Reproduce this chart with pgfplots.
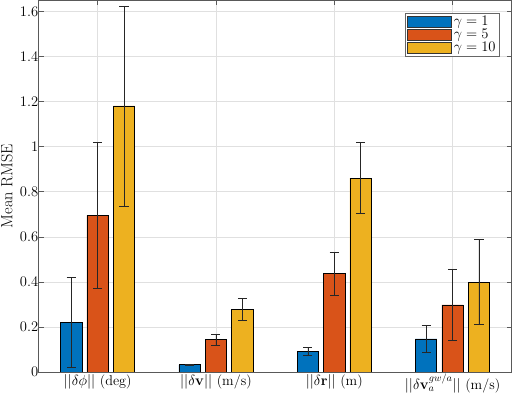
\documentclass[border=0pt,12pt]{standalone}
\usepackage{pgfplots}
\pgfplotsset{compat=1.18}
\usepackage{pgfplotstable}
\usepackage{amsmath}

\definecolor{mblue}{rgb}{0,0.447,0.741}
\definecolor{morange}{rgb}{0.85,0.325,0.098}
\definecolor{myellow}{rgb}{0.929,0.694,0.125}

% mean and std per group
\pgfplotstableread{
x y1 e1 y2 e2 y3 e3
1 0.219 0.200 0.695 0.324 1.181 0.444
2 0.032 0.004 0.143 0.025 0.278 0.048
3 0.091 0.018 0.436 0.097 0.861 0.158
4 0.147 0.060 0.298 0.158 0.399 0.189
}\rmse

\begin{document}
\begin{tikzpicture}
\begin{axis}[
    scale only axis,
    width=466pt, height=366pt,
    tick label style={font=\fontsize{14}{16}\selectfont},
    yticklabel style={inner xsep=0pt},
    xticklabel style={inner ysep=2pt},
    label style={font=\fontsize{16}{18}\selectfont},
    ybar=5pt,
    bar width=21pt,
    xmin=0.5, xmax=4.5,
    ymin=0, ymax=1.65,
    xtick={1,2,3,4},
    xticklabels={{$||\delta\phi||$ (deg)}, {$||\delta\mathbf{v}||$ (m/s)}, {$||\delta\mathbf{r}||$ (m)}, {$||\delta\mathbf{v}_a^{gw/a}||$ (m/s)}},
    ytick={0,0.2,...,1.6},
    ylabel={Mean RMSE},
    ylabel style={at={(axis description cs:-0.052,0.5)}, anchor=south, inner sep=1pt},
    tick align=inside,
    major tick length=5pt,
    xtick pos=both, ytick pos=both,
    grid=major,
    major grid style={black!12, line width=0.6pt},
    axis line style={black!65, line width=0.6pt},
    tick style={black!65, line width=0.6pt},
    legend cell align=left,
    legend style={at={(0.975,0.967)}, anchor=north east, draw=black!60, fill=white,
        inner xsep=2pt, inner ysep=1pt, row sep=-2pt, font=\fontsize{14}{15}\selectfont},
    legend image code/.code={\draw[#1, draw=black!80] (0pt,-5.5pt) rectangle (43pt,5.5pt);},
    error bars/error bar style={black!85, line width=0.6pt},
    error bars/error mark options={rotate=90, mark size=4.5pt, black!85, line width=0.6pt},
]
\addplot[fill=mblue, draw=black, line width=0.6pt, error bars/.cd, y dir=both, y explicit]
    table[x=x, y=y1, y error=e1] {\rmse};
\addplot[fill=morange, draw=black, line width=0.6pt, error bars/.cd, y dir=both, y explicit]
    table[x=x, y=y2, y error=e2] {\rmse};
\addplot[fill=myellow, draw=black, line width=0.6pt, error bars/.cd, y dir=both, y explicit]
    table[x=x, y=y3, y error=e3] {\rmse};
\legend{$\gamma=1$, $\gamma=5$, $\gamma=10$}
\end{axis}
\end{tikzpicture}
\end{document}
